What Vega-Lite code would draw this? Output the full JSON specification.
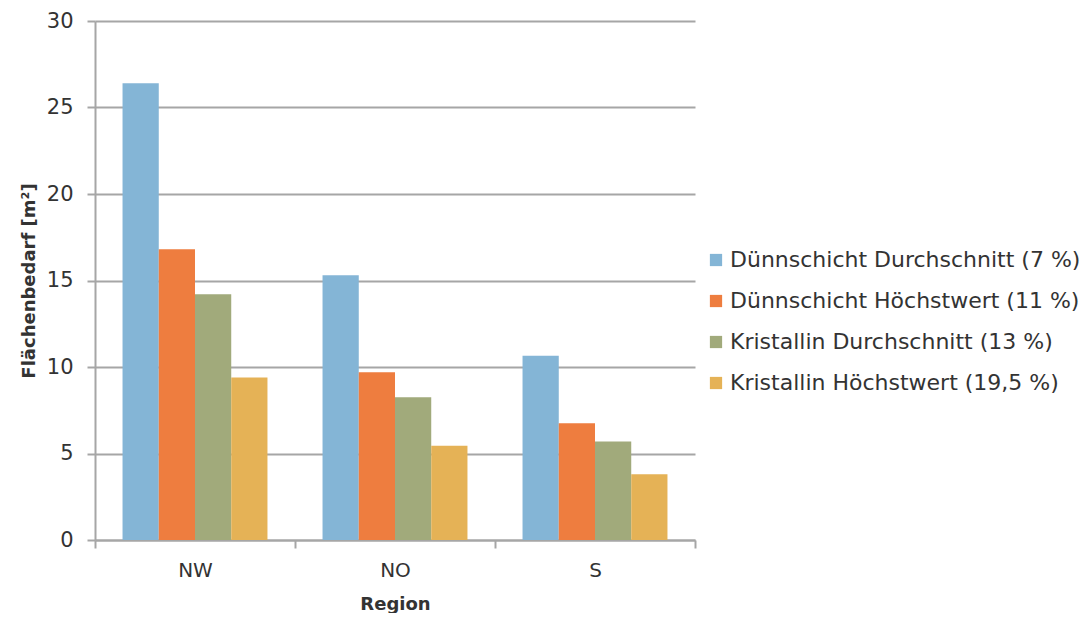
{
  "$schema": "https://vega.github.io/schema/vega-lite/v6.json",
  "width": 600,
  "height": 519,
  "padding": {"left": 20, "top": 10, "right": 0, "bottom": 0},
  "background": "white",
  "config": {
    "font": "DejaVu Sans",
    "view": {"stroke": null}
  },
  "data": {
    "values": [
      {"Region": "NW", "Serie": "Dünnschicht Durchschnitt (7 %)", "Wert": 26.4},
      {"Region": "NW", "Serie": "Dünnschicht Höchstwert (11 %)", "Wert": 16.8},
      {"Region": "NW", "Serie": "Kristallin Durchschnitt (13 %)", "Wert": 14.2},
      {"Region": "NW", "Serie": "Kristallin Höchstwert (19,5 %)", "Wert": 9.4},
      {"Region": "NO", "Serie": "Dünnschicht Durchschnitt (7 %)", "Wert": 15.3},
      {"Region": "NO", "Serie": "Dünnschicht Höchstwert (11 %)", "Wert": 9.7},
      {"Region": "NO", "Serie": "Kristallin Durchschnitt (13 %)", "Wert": 8.25},
      {"Region": "NO", "Serie": "Kristallin Höchstwert (19,5 %)", "Wert": 5.45},
      {"Region": "S", "Serie": "Dünnschicht Durchschnitt (7 %)", "Wert": 10.65},
      {"Region": "S", "Serie": "Dünnschicht Höchstwert (11 %)", "Wert": 6.75},
      {"Region": "S", "Serie": "Kristallin Durchschnitt (13 %)", "Wert": 5.7},
      {"Region": "S", "Serie": "Kristallin Höchstwert (19,5 %)", "Wert": 3.8}
    ]
  },
  "mark": {"type": "bar"},
  "encoding": {
    "x": {
      "field": "Region",
      "type": "nominal",
      "sort": ["NW", "NO", "S"],
      "scale": {"paddingInner": 0, "paddingOuter": 0},
      "axis": {
        "title": "Region",
        "titleFontSize": 18,
        "titleFontWeight": "bold",
        "titleColor": "#333",
        "titlePadding": 15,
        "labelAngle": 0,
        "labelFontSize": 20,
        "labelColor": "#333",
        "labelPadding": 12,
        "domainColor": "#a6a6a6",
        "domainWidth": 2,
        "tickColor": "#a6a6a6",
        "tickWidth": 2,
        "tickSize": 8,
        "tickBand": "extent",
        "grid": false
      }
    },
    "xOffset": {
      "field": "Serie",
      "type": "nominal",
      "sort": null,
      "scale": {"paddingInner": 0, "paddingOuter": 0.76}
    },
    "y": {
      "field": "Wert",
      "type": "quantitative",
      "scale": {"domain": [0, 30]},
      "axis": {
        "title": "Flächenbedarf [m²]",
        "titleFontSize": 18,
        "titleFontWeight": "bold",
        "titleColor": "#333",
        "titlePadding": 8,
        "values": [0, 5, 10, 15, 20, 25, 30],
        "labelFontSize": 21,
        "labelColor": "#333",
        "labelPadding": 14,
        "domainColor": "#a6a6a6",
        "domainWidth": 2,
        "tickColor": "#a6a6a6",
        "tickWidth": 2,
        "tickSize": 8,
        "gridColor": "#a6a6a6",
        "gridWidth": 2
      }
    },
    "color": {
      "field": "Serie",
      "type": "nominal",
      "sort": null,
      "scale": {
        "domain": ["Dünnschicht Durchschnitt (7 %)", "Dünnschicht Höchstwert (11 %)", "Kristallin Durchschnitt (13 %)", "Kristallin Höchstwert (19,5 %)"],
        "range": ["#84b5d6", "#ee7d3f", "#a1aa7b", "#e5b256"]
      },
      "legend": {
        "title": null,
        "orient": "none",
        "legendX": 610,
        "legendY": 228,
        "symbolType": "square",
        "symbolSize": 150,
        "symbolStrokeWidth": 0,
        "symbolOpacity": 1,
        "labelFontSize": 22,
        "labelColor": "#333",
        "labelLimit": 500,
        "labelOffset": 3,
        "rowPadding": 19
      }
    }
  }
}
